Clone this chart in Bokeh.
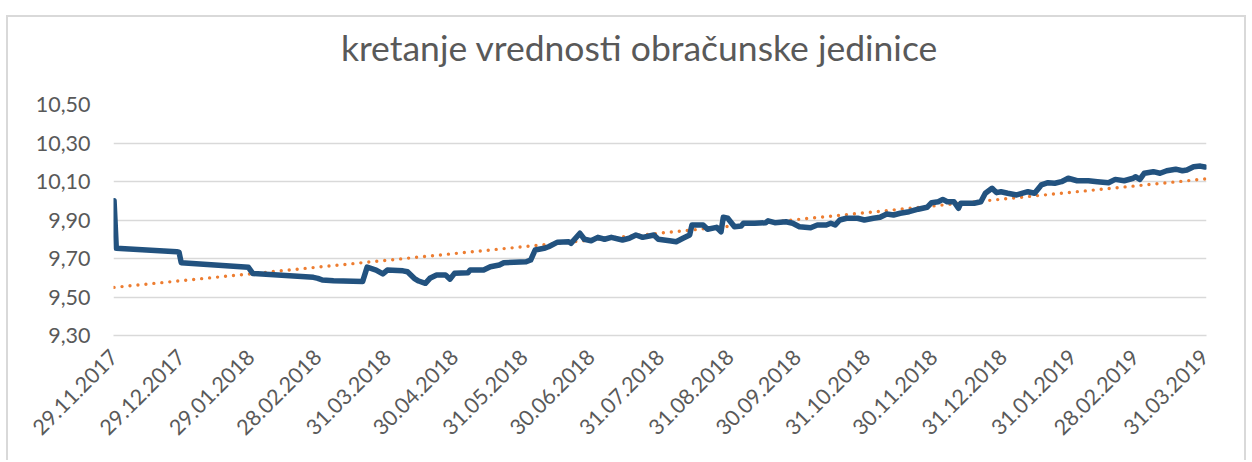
import pandas as pd
from bokeh.plotting import figure
from bokeh.models import FixedTicker, DatetimeTickFormatter, CustomJSTickFormatter, Range1d, Label
from bokeh.embed import file_html
from bokeh.resources import INLINE
import math

# ---- data ----
dates = [
    "2017-11-29", "2017-11-30", "2017-12-27", "2017-12-28", "2017-12-29",
    "2018-01-28", "2018-01-30", "2018-02-26", "2018-02-28", "2018-03-02",
    "2018-03-07", "2018-03-20", "2018-03-22", "2018-03-26", "2018-03-29",
    "2018-03-31", "2018-04-07", "2018-04-09", "2018-04-12", "2018-04-14",
    "2018-04-17", "2018-04-19", "2018-04-22", "2018-04-26", "2018-04-28",
    "2018-04-30", "2018-05-06", "2018-05-07", "2018-05-13", "2018-05-16",
    "2018-05-20", "2018-05-22", "2018-06-01", "2018-06-03", "2018-06-05",
    "2018-06-09", "2018-06-11", "2018-06-15", "2018-06-20", "2018-06-21",
    "2018-06-25", "2018-06-27", "2018-06-30", "2018-07-03", "2018-07-06",
    "2018-07-09", "2018-07-14", "2018-07-17", "2018-07-20", "2018-07-23",
    "2018-07-26", "2018-07-28", "2018-07-30", "2018-08-04", "2018-08-07",
    "2018-08-10", "2018-08-13", "2018-08-14", "2018-08-19", "2018-08-21",
    "2018-08-25", "2018-08-27", "2018-08-28", "2018-08-30", "2018-09-02",
    "2018-09-05", "2018-09-06", "2018-09-11", "2018-09-16", "2018-09-17",
    "2018-09-20", "2018-09-25", "2018-09-28", "2018-10-01", "2018-10-06",
    "2018-10-09", "2018-10-13", "2018-10-15", "2018-10-17", "2018-10-19",
    "2018-10-22", "2018-10-27", "2018-10-30", "2018-11-03", "2018-11-06",
    "2018-11-09", "2018-11-12", "2018-11-15", "2018-11-19", "2018-11-23",
    "2018-11-27", "2018-11-29", "2018-12-02", "2018-12-04", "2018-12-06",
    "2018-12-09", "2018-12-11", "2018-12-12", "2018-12-18", "2018-12-21",
    "2018-12-23", "2018-12-26", "2018-12-28", "2018-12-30", "2019-01-02",
    "2019-01-06", "2019-01-11", "2019-01-14", "2019-01-17", "2019-01-20",
    "2019-01-23", "2019-01-26", "2019-01-29", "2019-02-02", "2019-02-07",
    "2019-02-11", "2019-02-16", "2019-02-19", "2019-02-23", "2019-02-27",
    "2019-02-28", "2019-03-02", "2019-03-04", "2019-03-08", "2019-03-11",
    "2019-03-14", "2019-03-18", "2019-03-21", "2019-03-23", "2019-03-26",
    "2019-03-29", "2019-03-31",
]
values = [
    10.000, 9.753, 9.735, 9.733, 9.678,
    9.654, 9.622, 9.602, 9.597, 9.588,
    9.585, 9.581, 9.655, 9.640, 9.620,
    9.640, 9.636, 9.631, 9.597, 9.583,
    9.571, 9.597, 9.614, 9.614, 9.593,
    9.623, 9.626, 9.640, 9.640, 9.657,
    9.666, 9.678, 9.683, 9.692, 9.744,
    9.753, 9.761, 9.785, 9.787, 9.779,
    9.831, 9.800, 9.792, 9.810, 9.800,
    9.810, 9.796, 9.805, 9.822, 9.810,
    9.817, 9.822, 9.800, 9.792, 9.787,
    9.805, 9.822, 9.874, 9.874, 9.852,
    9.862, 9.839, 9.914, 9.909, 9.865,
    9.869, 9.883, 9.883, 9.886, 9.896,
    9.886, 9.891, 9.883, 9.865, 9.860,
    9.874, 9.874, 9.883, 9.874, 9.900,
    9.909, 9.909, 9.900, 9.909, 9.914,
    9.931, 9.926, 9.935, 9.943, 9.956,
    9.966, 9.990, 9.995, 10.007, 9.995,
    9.995, 9.961, 9.987, 9.987, 9.995,
    10.039, 10.065, 10.042, 10.047, 10.039,
    10.030, 10.047, 10.039, 10.082, 10.094,
    10.091, 10.099, 10.117, 10.104, 10.104,
    10.099, 10.094, 10.111, 10.104, 10.117,
    10.125, 10.111, 10.143, 10.151, 10.143,
    10.156, 10.164, 10.156, 10.160, 10.177,
    10.180, 10.175,
]
trend_dates = ["2017-11-29", "2019-03-31"]
trend_values = [9.550, 10.113]

tick_dates = [
    "2017-11-29", "2017-12-29", "2018-01-29", "2018-02-28", "2018-03-31",
    "2018-04-30", "2018-05-31", "2018-06-30", "2018-07-31", "2018-08-31",
    "2018-09-30", "2018-10-31", "2018-11-30", "2018-12-31", "2019-01-31",
    "2019-02-28", "2019-03-31",
]
y_ticks = [9.30, 9.50, 9.70, 9.90, 10.10, 10.30, 10.50]
title_text = "kretanje vrednosti obračunske jedinice"

# ---- figure ----
x = pd.to_datetime(dates)
tx = pd.to_datetime(trend_dates)
ticks_ms = [pd.Timestamp(d).value // 10**6 for d in tick_dates]

p = figure(
    width=1240, height=445,
    x_axis_type="datetime",
    output_backend="svg", toolbar_location=None,
    min_border_left=105, min_border_right=42,
    min_border_top=87, min_border_bottom=127,
    background_fill_color="white", border_fill_color="white",
)
p.x_range = Range1d(pd.Timestamp(tick_dates[0]) - pd.Timedelta(hours=6),
                    pd.Timestamp(tick_dates[-1]) + pd.Timedelta(hours=18))
p.y_range = Range1d(9.30, 10.50)
p.outline_line_color = None

title = Label(x=526, y=57, x_units="screen", y_units="screen",
              text=title_text, text_align="center", text_baseline="alphabetic",
              text_font="Lato", text_font_size="35.5px", text_color="#595959")
p.add_layout(title, "above")

p.line(tx, trend_values, line_color="#ED7D31", line_width=3.4,
       line_dash="0 8", line_cap="round")
p.line(x, values, line_color="#22527F", line_width=5.5, line_join="round",
       line_cap="round")

p.xaxis.ticker = FixedTicker(ticks=ticks_ms)
fmt = "%d.%m.%Y"
p.xaxis.formatter = DatetimeTickFormatter(
    microseconds=fmt, milliseconds=fmt, seconds=fmt, minsec=fmt, minutes=fmt,
    hourmin=fmt, hours=fmt, days=fmt, months=fmt, years=fmt)
p.xaxis.major_label_orientation = math.pi / 4
p.xaxis.major_label_text_font = "Lato"
p.xaxis.major_label_text_font_size = "21.5px"
p.xaxis.major_label_text_color = "#595959"
p.xaxis.major_label_standoff = 12
p.xaxis.axis_line_color = "#d9d9d9"
p.xaxis.axis_line_width = 1.5
p.xaxis.major_tick_line_color = None
p.xaxis.minor_tick_line_color = None

p.yaxis.ticker = FixedTicker(ticks=y_ticks)
p.yaxis.formatter = CustomJSTickFormatter(code="return tick.toFixed(2).replace('.', ',');")
p.yaxis.major_label_text_font = "Lato"
p.yaxis.major_label_text_font_size = "21.5px"
p.yaxis.major_label_text_color = "#595959"
p.yaxis.major_label_standoff = 17
p.yaxis.axis_line_color = None
p.yaxis.major_tick_line_color = None
p.yaxis.minor_tick_line_color = None

p.xgrid.grid_line_color = None
p.ygrid.grid_line_color = "#d9d9d9"
p.ygrid.grid_line_width = 1.5

p.styles = {
    "margin-left": "6px", "margin-top": "15px",
    "border-left": "2px solid #d9d9d9", "border-top": "2px solid #d9d9d9",
    "border-right": "2px solid #d9d9d9",
}

open("out.html", "w").write(file_html(p, INLINE))
